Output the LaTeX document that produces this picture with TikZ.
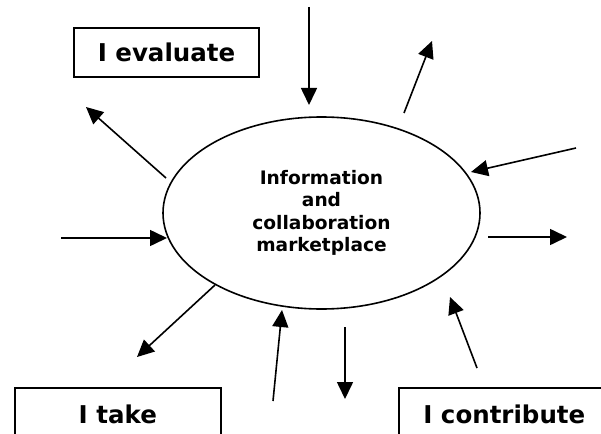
\documentclass[tikz,border=0pt]{standalone}
\usepackage{fontspec}
\setmainfont{DejaVu Sans}
\usetikzlibrary{arrows.meta,shapes.geometric}
\tikzset{
  conn/.style={line width=1.6pt,-{Triangle[length=17pt,width=16pt]}},
  boxnode/.style={draw,line width=1.6pt,inner sep=0pt,font=\fontsize{24.5}{28}\selectfont\bfseries},
  market/.style={draw,ellipse,line width=1.6pt,inner sep=0pt,minimum width=317pt,minimum height=192pt,align=center,font=\fontsize{18.6}{22.3}\selectfont\bfseries}
}
\begin{document}
\begin{tikzpicture}[x=1pt,y=-1pt]
\useasboundingbox (0,0) rectangle (601,433);
\clip (0,0) rectangle (601,433);
\node[market] (m) at (321.5,213) {Information\\and\\collaboration\\marketplace};
\node[boxnode,minimum width=185pt,minimum height=49pt] (ev) at (166.5,52.5) {I evaluate};
\node[boxnode,anchor=north west,minimum width=206pt,text height=17.8pt,text depth=40pt,inner ysep=18pt] (tk) at (14,387) {I take};
\node[boxnode,anchor=north west,minimum width=211pt,text height=17.8pt,text depth=40pt,inner ysep=18pt] (ct) at (398,387) {I contribute};
% endpoints
\coordinate (a1s) at (309,7);   \coordinate (a1e) at (309,105);
\coordinate (a2s) at (166,178); \coordinate (a2e) at (86,107);
\coordinate (a3s) at (404,113); \coordinate (a3e) at (432,41);
\coordinate (a4s) at (576,148); \coordinate (a4e) at (471,172);
\coordinate (a5s) at (488,237); \coordinate (a5e) at (567,237);
\coordinate (a6s) at (61,238);  \coordinate (a6e) at (167,238);
\coordinate (a7s) at (215,285); \coordinate (a7e) at (137,357);
\coordinate (a8s) at (273,401); \coordinate (a8e) at (282,310);
\coordinate (a9s) at (345,327); \coordinate (a9e) at (345,399);
\coordinate (a10s) at (477,368); \coordinate (a10e) at (450,297);
\foreach \i in {1,...,10} { \draw[conn] (a\i s) -- (a\i e); }
\end{tikzpicture}
\end{document}
